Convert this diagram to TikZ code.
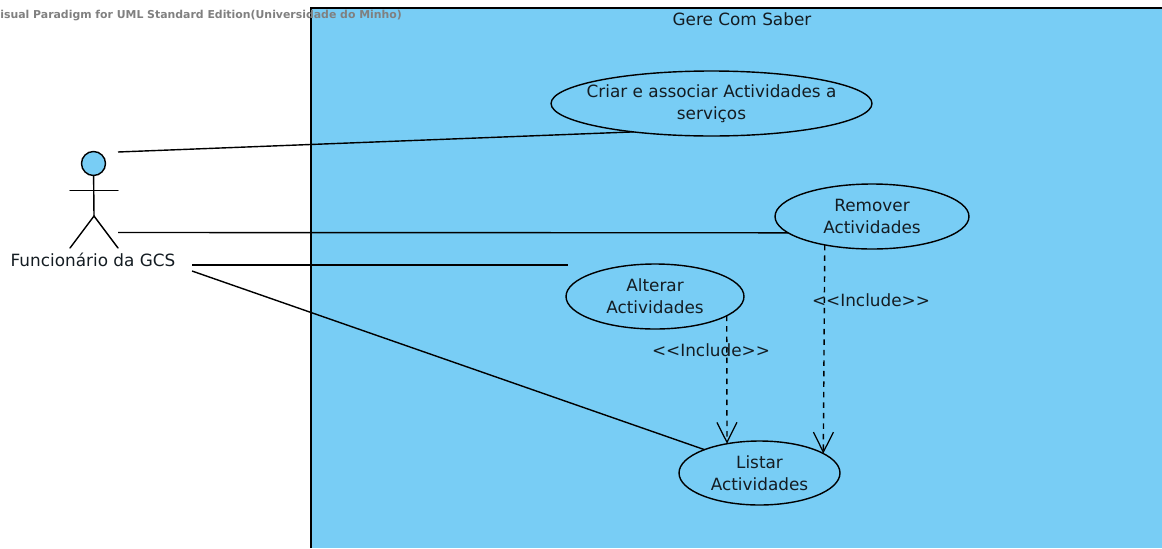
\documentclass[tikz,border=0pt]{standalone}
\usepackage{fontspec}
\setmainfont{DejaVu Sans}
\usetikzlibrary{positioning,shapes.geometric,arrows.meta}
\definecolor{boxblue}{RGB}{120,205,245}
\definecolor{inkdark}{RGB}{20,28,34}
\tikzset{
	usecase/.style={ellipse,draw,line width=0.8pt,inner sep=0pt,outer sep=0pt},
	usetext/.style={align=center,inner sep=0pt,text=inkdark,font=\fontsize{9.6}{12.4}\selectfont},
	assoc/.style={line width=0.8pt},
	incl/.style={line width=0.8pt,dash pattern=on 0.11cm off 0.1cm,-{Straight Barb[length=0.4cm,width=0.4cm,line width=0.7pt]}},
	stick/.style={line width=0.8pt,line cap=round}
}
\begin{document}
\begin{tikzpicture}[x=0.02cm,y=-0.02cm]
			\useasboundingbox (0,0) rectangle (1162,548);
			\fill[boxblue] (311,8) rectangle (1162,548);
			\draw[line width=1.2pt] (311,548) -- (311,8) -- (1162,8);
			\node[anchor=west,inner sep=0pt,text=black!50,font=\bfseries\fontsize{6.2}{7}\selectfont] (vendor) at (0,16) {isual Paradigm for UML Standard Edition(Universidade do Minho)};
			\node[usetext] (system) at (742,19) {Gere Com Saber};
			
			\node[usecase,minimum width=6.42cm,minimum height=1.3cm] (criar) at (711.5,103.5) {};
			\node[usecase,minimum width=3.88cm,minimum height=1.3cm] (remover) at (872,216.5) {};
			\node[usecase,minimum width=3.56cm,minimum height=1.3cm] (alterar) at (655,296.5) {};
			\node[usecase,minimum width=3.22cm,minimum height=1.28cm] (listar) at (759.5,473) {};
			\node[usetext] (criartext) at (criar) {Criar e associar Actividades a\\serviços};
			\node[usetext] (removertext) at (remover) {Remover\\Actividades};
			\node[usetext] (alterartext) at (alterar) {Alterar\\Actividades};
			\node[usetext] (listartext) at (listar) {Listar\\Actividades};
			
			\node[circle,draw,fill=boxblue,line width=0.8pt,minimum size=0.48cm,inner sep=0pt] (head) at (93.5,163.5) {};
			\coordinate (hip) at (94,216);
			\coordinate (armleft) at (70,190.4);
			\coordinate (armright) at (118,190.4);
			\coordinate (footleft) at (70,248);
			\coordinate (footright) at (118,248);
			\node[usetext] (actor) at (93,260) {Funcionário da GCS};
			\draw[stick] (head) -- (hip);
			\draw[stick] (armleft) -- (armright);
			\draw[stick] (footleft) -- (hip) -- (footright);
			
			\coordinate (actora) at (118,152);
			\coordinate (actorb) at (118,232.5);
			\coordinate (actorc) at (192,265);
			\coordinate (actord) at (192,271);
			\coordinate (alterarend) at (568,265);
			\draw[assoc] (actora) -- (criar.200);
			\draw[assoc] (actorb) -- (remover.191);
			\draw[assoc] (actorc) -- (alterarend);
			\draw[assoc] (actord) -- (listar.157);
			
			\draw[incl] (alterar.345) -- (listar.138);
			\draw[incl] (remover.211) -- (listar.17);
			\node[usetext] (inclalterar) at (711,350) {<{}<Include>{}>};
			\node[usetext] (inclremover) at (871,300) {<{}<Include>{}>};
		\end{tikzpicture}
\end{document}
